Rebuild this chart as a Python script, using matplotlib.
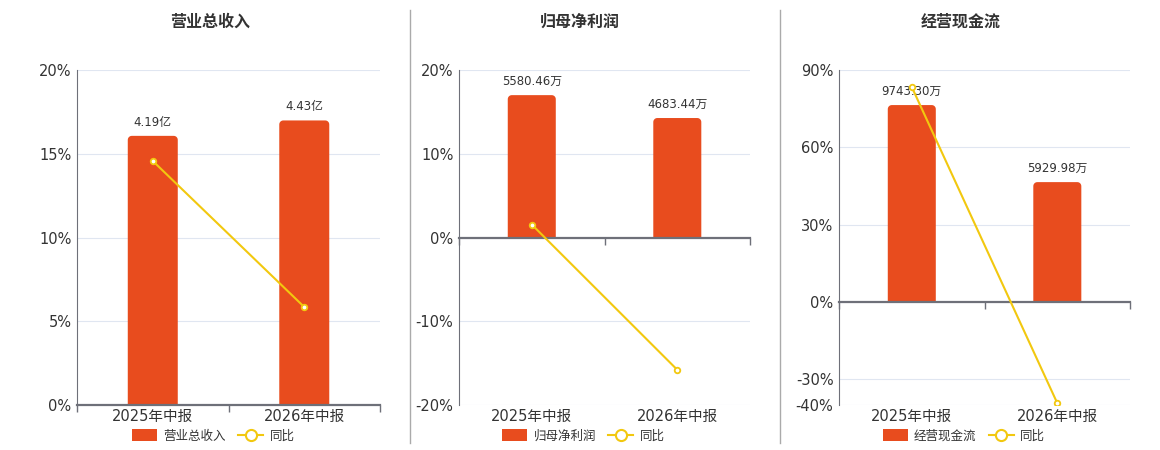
import numpy as np
import matplotlib.pyplot as plt
from matplotlib.lines import Line2D
from matplotlib.patches import Patch, PathPatch
from matplotlib.path import Path

plt.rcParams['font.family'] = ['DejaVu Sans', 'Noto Sans CJK SC']

# DATA
categories = ['2025年中报', '2026年中报']
titles = ['营业总收入', '归母净利润', '经营现金流']
bar_values = [[4.19, 4.43], [5580.46, 4683.44], [9743.30, 5929.98]]
bar_labels = [['4.19亿', '4.43亿'], ['5580.46万', '4683.44万'], ['9743.30万', '5929.98万']]
yoy = [[14.57, 5.85], [1.55, -15.8], [83.4, -39.3]]
pct_ticks = [[0, 5, 10, 15, 20], [-20, -10, 0, 10, 20], [-40, -30, 0, 30, 60, 90]]

# LAYOUT / STYLE
pct_lims = [(0, 20), (-20, 20), (-40, 90)]
bar_lims = [(0, 5.215), (-6565, 6565), (-5101, 11478)]
axes_rects = [[0.0664, 0.1, 0.2612, 0.7444],
              [0.3957, 0.1, 0.2509, 0.7444],
              [0.7233, 0.1, 0.2509, 0.7444]]
centers = [0.181, 0.500, 0.828]
bar_color = '#E84C1E'
line_color = '#F2C80F'
axis_color = '#6E7079'
grid_color = '#E0E6F1'
text_color = '#333333'
bar_width = 0.33


def rounded_bar(xc, w, h, rx, ry):
    # bar outline with rounded top corners only
    x0, x1 = xc - w / 2, xc + w / 2
    t = np.linspace(0, np.pi / 2, 8)
    pts = [(x0, 0), (x1, 0)]
    pts += [(x1 - rx + rx * np.cos(a), h - ry + ry * np.sin(a)) for a in t]
    pts += [(x0 + rx - rx * np.cos(a), h - ry + ry * np.sin(a)) for a in t[::-1]]
    pts.append((x0, 0))
    codes = [Path.MOVETO] + [Path.LINETO] * (len(pts) - 2) + [Path.CLOSEPOLY]
    return Path(pts, codes)


fig = plt.figure(figsize=(11.6, 4.5), dpi=100)

x = np.arange(len(categories))
for i in range(3):
    ax = fig.add_axes(axes_rects[i])
    ax.set_xlim(-0.5, 1.5)
    ax.set_ylim(pct_lims[i])
    ax2 = ax.twinx()
    ax2.set_xlim(-0.5, 1.5)
    ax2.set_ylim(bar_lims[i])
    ax2.set_yticks([])
    for s in ax2.spines.values():
        s.set_visible(False)

    # bars on the hidden axis
    px_x = ax2.transData.transform((1, 0))[0] - ax2.transData.transform((0, 0))[0]
    px_y = ax2.transData.transform((0, 1))[1] - ax2.transData.transform((0, 0))[1]
    rx, ry = 4.0 / px_x, 4.0 / px_y
    for xi, v in zip(x, bar_values[i]):
        ax2.add_patch(PathPatch(rounded_bar(xi, bar_width, v, rx, ry),
                                fc=bar_color, ec='none', zorder=2))
    for xi, v, lab in zip(x, bar_values[i], bar_labels[i]):
        ax2.annotate(lab, (xi, v), xytext=(0, 5), textcoords='offset points',
                     ha='center', va='bottom', fontsize=8.5, color=text_color)

    # yoy line, drawn above bars but in percent coordinates
    ax2.plot(x, yoy[i], color=line_color, lw=1.5, marker='o', ms=4,
             mfc='white', mec=line_color, mew=1.3, zorder=5, transform=ax.transData)
    ax2.set_xlim(-0.5, 1.5)
    ax2.set_ylim(bar_lims[i])

    ax.set_yticks(pct_ticks[i])
    ax.set_yticklabels([f'{t}%' for t in pct_ticks[i]], fontsize=10.5, color=text_color)
    ax.tick_params(axis='y', length=0, pad=4)
    ax.grid(axis='y', color=grid_color, lw=0.8)
    ax.set_axisbelow(True)

    # x axis at zero
    ax.set_xticks([])
    for s in ['top', 'right', 'bottom']:
        ax.spines[s].set_visible(False)
    ax.spines['left'].set_color(axis_color)
    ax.spines['left'].set_linewidth(0.8)
    ax2.plot([-0.5, 1.5], [0, 0], color=axis_color, lw=1.6, zorder=4,
             transform=ax.transData, clip_on=False)
    for b in [-0.5, 0.5, 1.5]:
        ax2.plot([b], [0], marker=3, ms=5, color=axis_color, clip_on=False, zorder=4,
                 transform=ax.transData)
    ylo = pct_lims[i][0]
    for xi, c in zip(x, categories):
        ax.annotate(c, (xi, ylo), xytext=(0, -3), textcoords='offset points',
                    ha='center', va='top', fontsize=10.5, color=text_color,
                    annotation_clip=False)

    fig.text(centers[i], 0.951, titles[i], ha='center', va='center', fontsize=11.5,
             fontweight='bold', color=text_color, family=['Noto Sans CJK SC'])

    handles = [Patch(facecolor=bar_color, edgecolor='none', label=titles[i]),
               Line2D([], [], color=line_color, lw=1.5, marker='o', ms=8,
                      mfc='white', mec=line_color, mew=1.5, label='同比')]
    leg = fig.legend(handles=handles, loc='center', bbox_to_anchor=(centers[i] + 0.003, 0.031),
                     ncol=2, frameon=False, handlelength=2.0, handleheight=1.1,
                     columnspacing=1.0, handletextpad=0.5,
                     prop={'family': 'Noto Sans CJK SC', 'size': 9})
    for t in leg.get_texts():
        t.set_color(text_color)

# panel dividers
for xf in [410 / 1160, 780 / 1160]:
    fig.add_artist(Line2D([xf, xf], [1 - 443 / 450, 1 - 10 / 450], color='#AAAAAA', lw=1))

fig.savefig('out.png', dpi=100)
